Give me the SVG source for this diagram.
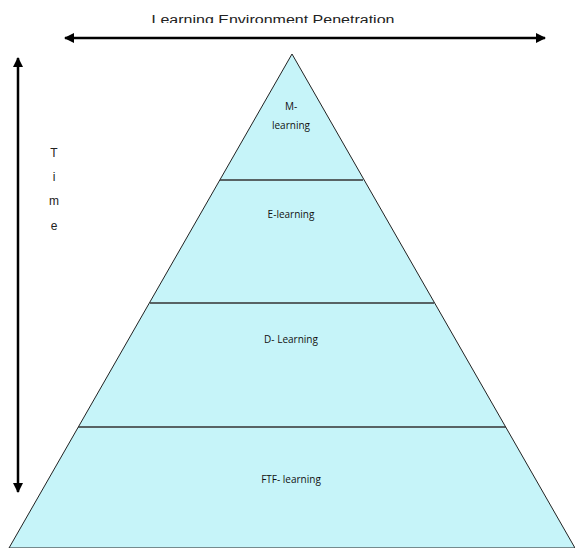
<svg xmlns="http://www.w3.org/2000/svg" width="575" height="548" viewBox="0 0 575 548">
<style>
.lbl{font-family:"Open Sans","Liberation Sans",sans-serif;font-size:10px;fill:#111;text-anchor:middle}
.ax{font-family:"Liberation Sans",Arial,sans-serif;font-size:12px;fill:#222}
.sep{stroke:#333;stroke-width:1.3}
.arr{stroke:#000;stroke-width:2.5;fill:none}
</style>
<defs>
<marker id="ah" viewBox="0 0 10 10" refX="9" refY="5" markerWidth="4" markerHeight="4" orient="auto-start-reverse">
<path d="M0,0 L10,5 L0,10 z" fill="#000"/>
</marker>
<clipPath id="tc"><rect x="0" y="0" width="575" height="23"/></clipPath>
</defs>
<rect width="575" height="548" fill="#fff"/>
<g id="pyramid">
<polygon points="292,54 9,548 575,548" fill="#c6f4f9" stroke="#222" stroke-width="1"/>
</g>
<g id="connectors">
<line class="arr" x1="65" y1="38" x2="545" y2="38" marker-start="url(#ah)" marker-end="url(#ah)"/>
<line class="arr" x1="18" y1="58" x2="18" y2="492" marker-start="url(#ah)" marker-end="url(#ah)"/>
<line class="sep" x1="220" y1="180" x2="363" y2="180"/>
<line class="sep" x1="150" y1="303" x2="434" y2="303"/>
<line class="sep" x1="78" y1="427" x2="506" y2="427"/>
</g>
<g id="title" clip-path="url(#tc)"><text class="ax" x="273" y="24" text-anchor="middle" textLength="243" lengthAdjust="spacingAndGlyphs">Learning Environment Penetration</text></g>
<g id="time">
<text class="ax" x="54" y="157" text-anchor="middle">T</text>
<text class="ax" x="54" y="181" text-anchor="middle">i</text>
<text class="ax" x="54" y="205" text-anchor="middle">m</text>
<text class="ax" x="54" y="230" text-anchor="middle">e</text>
</g>
<g id="m-learning"><text class="lbl" x="291" y="110">M-</text><text class="lbl" x="291" y="129">learning</text></g>
<g id="e-learning"><text class="lbl" x="291" y="218">E-learning</text></g>
<g id="d-learning"><text class="lbl" x="291" y="343">D- Learning</text></g>
<g id="ftf-learning"><text class="lbl" x="291" y="483">FTF- learning</text></g>
</svg>
